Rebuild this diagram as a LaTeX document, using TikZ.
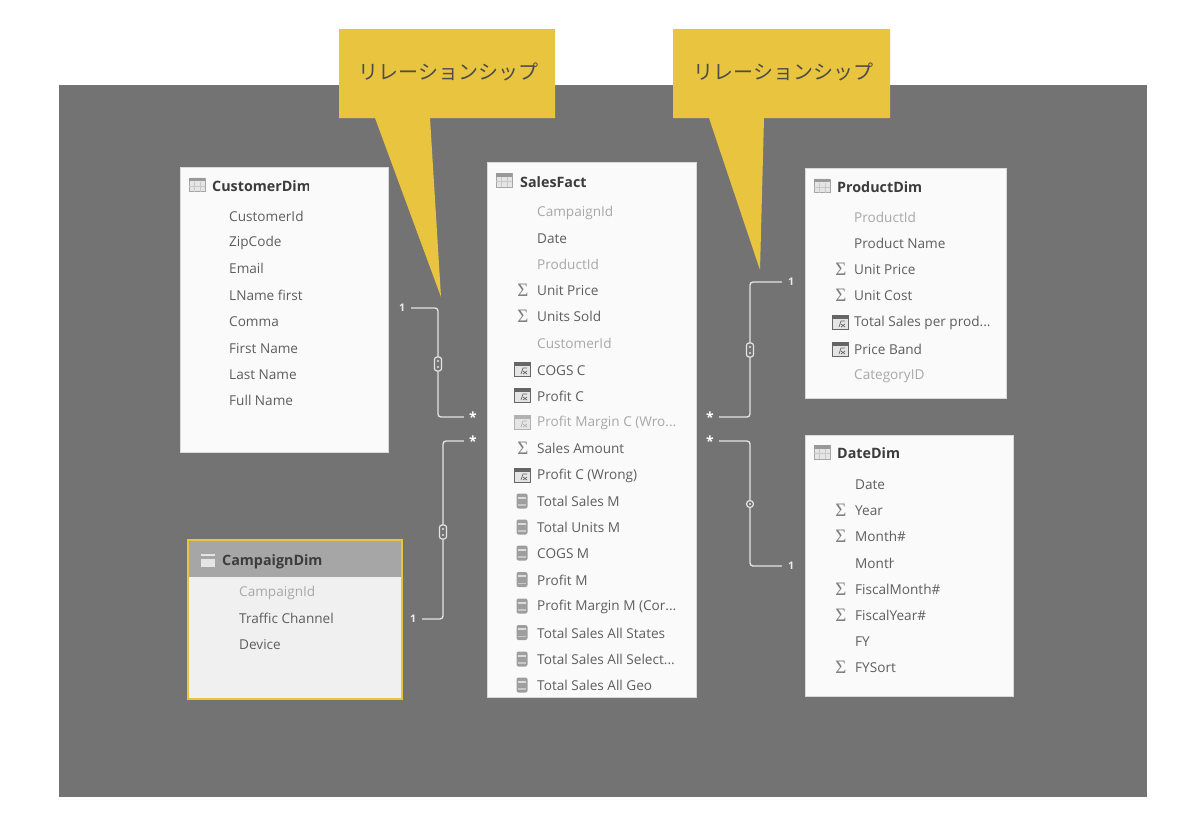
\documentclass[tikz,border=0pt]{standalone}
\usepackage{fontspec}
\setmainfont{Open Sans}
\newfontfamily\cjkf{Noto Sans CJK JP}
\newfontfamily\symf{Liberation Serif}
\definecolor{bgc}{HTML}{737373}
\definecolor{boxc}{HTML}{FAFAFA}
\definecolor{yel}{HTML}{E9C53F}
\definecolor{fieldc}{HTML}{5E5E5E}
\definecolor{hidc}{HTML}{A8A8A8}
\definecolor{headc}{HTML}{3C3C3C}
\definecolor{linec}{HTML}{E4E4E4}
\tikzset{
  x=1pt,y=-1pt,
  tablebox/.style={fill=boxc,draw=white!85!black,line width=1pt},
  callout/.style={fill=yel,draw=none},
  calltext/.style={font=\cjkf\fontsize{20}{20}\selectfont,text=black!70,inner sep=0pt},
  fieldt/.style={font=\fontsize{13.6}{14}\selectfont,text=fieldc,anchor=west,inner sep=0pt},
  hidt/.style={fieldt,text=hidc},
  headt/.style={font=\bfseries\fontsize{14.3}{15}\selectfont,text=headc,anchor=west,inner sep=0pt},
  sigt/.style={font=\symf\fontsize{19}{19}\selectfont,text=black!50,inner sep=0pt},
  relline/.style={draw=linec,line width=1.3pt,rounded corners=3pt},
  badge/.style={draw=linec,fill=bgc,line width=1.2pt,rounded corners=2.5pt,minimum width=7pt,minimum height=14pt,inner sep=0pt},
  badgeo/.style={draw=linec,fill=bgc,line width=1.2pt,circle,minimum size=7pt,inner sep=0pt},
  mult/.style={font=\bfseries\fontsize{10.5}{10}\selectfont,text=white!92!black,inner sep=1pt,minimum height=8pt},
  star/.style={mult,font=\bfseries\fontsize{14}{10}\selectfont,text=white},
}
\newcommand{\fld}[5]{\node[#4] (#1) at (#2,#3+0.8) {#5};}
\newcommand{\sig}[3]{\node[sigt] (#1) at (#2,#3) {Σ};}
% table icon
\newcommand{\tabicon}[2]{%
  \fill[black!10,rounded corners=1pt] (#1-8,#2-7) rectangle (#1+8,#2+7);
  \draw[black!35,line width=.7pt] (#1-8,#2-6.5) rectangle (#1+8,#2+7);
  \fill[black!40] (#1-8,#2-7) rectangle (#1+8,#2-3.5);
  \draw[black!22,line width=.4pt] (#1-8,#2+1.5) -- (#1+8,#2+1.5) (#1-3,#2-3) -- (#1-3,#2+7) (#1+3,#2-3) -- (#1+3,#2+7);}
% calculated column icon
\newcommand{\calicon}[3][black!60]{%
  \fill[black!10] (#2-8,#3-7) rectangle (#2+8,#3+7);
  \draw[#1,line width=.6pt] (#2-8,#3-7) rectangle (#2+8,#3+7);
  \fill[#1] (#2-8,#3-7) rectangle (#2+8,#3-3.5);
  \draw[#1,line width=.7pt] (#2-1,#3+5) -- (#2+1,#3-1) -- (#2+5,#3-1) (#2+1,#3+2) -- (#2+5,#3+5) (#2+5,#3+2) -- (#2+1,#3+5);}
% measure icon
\newcommand{\meaicon}[2]{%
  \fill[black!38,rounded corners=2pt] (#1-5.5,#2-7.5) rectangle (#1+5.5,#2+7.5);
  \fill[black!14] (#1-4,#2-4.5) rectangle (#1+4,#2-2.5);
  \fill[black!22] (#1-4,#2+3) rectangle (#1+4,#2+4.5);}
\begin{document}
\begin{tikzpicture}
\path[use as bounding box,fill=white] (0,0) rectangle (1200,822);
\fill[bgc] (59,85) rectangle (1147,797);

% callouts
\path[callout] (339,29) -- (555,29) -- (555,118) -- (430,118) -- (441,297) -- (375,118) -- (339,118) -- cycle;
\path[callout] (673,29) -- (890,29) -- (890,118) -- (764,118) -- (760,270) -- (709,118) -- (673,118) -- cycle;
\node[calltext] (call1) at (448.5,71.5) {リレーションシップ};
\node[calltext] (call2) at (783.5,71.5) {リレーションシップ};

% CustomerDim
\path[tablebox] (180,167) rectangle (388,452);
\tabicon{197}{184.5}
\begin{scope}\clip (205,170) rectangle (308,200);
\fld{cust}{212}{185}{headt}{CustomerDim}
\end{scope}
\fld{c1}{229}{216}{fieldt}{CustomerId}
\fld{c2}{229}{242}{fieldt}{ZipCode}
\fld{c3}{229}{268}{fieldt}{Email}
\fld{c4}{229}{294.5}{fieldt}{LName first}
\fld{c5}{229}{320.5}{fieldt}{Comma}
\fld{c6}{229}{347.5}{fieldt}{First Name}
\fld{c7}{229}{373.5}{fieldt}{Last Name}
\fld{c8}{229}{400}{fieldt}{Full Name}

% CampaignDim
\path[fill=black!6] (188,540) rectangle (402,699);
\fill[black!35] (188,540) rectangle (402,577);
\draw[yel,line width=2.4pt] (188,540) rectangle (402,699);
\fill[white!90!black] (201,554) rectangle (215,567);
\fill[black!35] (201,556) rectangle (215,559);
\fld{camp}{222}{560.5}{headt}{CampaignDim}
\fld{k1}{239}{592}{hidt}{CampaignId}
\fld{k2}{239}{618}{fieldt}{Traffic Channel}
\fld{k3}{239}{644}{fieldt}{Device}

% SalesFact
\path[tablebox] (487.5,162.5) rectangle (696.5,697);
\tabicon{504}{180}
\fld{sales}{520}{181}{headt}{SalesFact}
\fld{s1}{537}{212}{hidt}{CampaignId}
\fld{s2}{537}{238}{fieldt}{Date}
\fld{s3}{537}{264}{hidt}{ProductId}
\sig{si4}{523}{290}
\fld{s4}{537}{290}{fieldt}{Unit Price}
\sig{si5}{523}{316}
\fld{s5}{537}{316}{fieldt}{Units Sold}
\fld{s6}{537}{343}{hidt}{CustomerId}
\calicon{522}{369}
\fld{s7}{537}{369.5}{fieldt}{COGS C}
\calicon{522}{395}
\fld{s8}{537}{395.5}{fieldt}{Profit C}
\calicon[black!30]{522}{422}
\fld{s9}{537}{422}{hidt}{Profit Margin C (Wro...}
\sig{si10}{523}{448}
\fld{s10}{537}{448}{fieldt}{Sales Amount}
\calicon{522}{475}
\fld{s11}{537}{475}{fieldt}{Profit C (Wrong)}
\meaicon{522}{501}
\fld{s12}{537}{501}{fieldt}{Total Sales M}
\meaicon{522}{527}
\fld{s13}{537}{527}{fieldt}{Total Units M}
\meaicon{522}{553}
\fld{s14}{537}{553}{fieldt}{COGS M}
\meaicon{522}{579.5}
\fld{s15}{537}{579.5}{fieldt}{Profit M}
\meaicon{522}{606}
\fld{s16}{537}{606}{fieldt}{Profit Margin M (Cor...}
\meaicon{522}{632.5}
\fld{s17}{537}{632.5}{fieldt}{Total Sales All States}
\meaicon{522}{659}
\fld{s18}{537}{659}{fieldt}{Total Sales All Select...}
\meaicon{522}{685}
\fld{s19}{537}{685}{fieldt}{Total Sales All Geo}

% ProductDim
\path[tablebox] (805,168) rectangle (1006,398);
\tabicon{822}{185.5}
\fld{prod}{837}{186}{headt}{ProductDim}
\fld{p1}{854}{217}{hidt}{ProductId}
\fld{p2}{854}{243}{fieldt}{Product Name}
\sig{pi3}{841}{269}
\fld{p3}{854}{269}{fieldt}{Unit Price}
\sig{pi4}{841}{295}
\fld{p4}{854}{295}{fieldt}{Unit Cost}
\calicon{840}{322}
\fld{p5}{854}{322}{fieldt}{Total Sales per prod...}
\calicon{840}{349}
\fld{p6}{854}{349}{fieldt}{Price Band}
\fld{p7}{854}{375}{hidt}{CategoryID}

% DateDim
\path[tablebox] (805,435) rectangle (1013,696);
\tabicon{822}{452}
\begin{scope}\clip (830,440) rectangle (898,465);
\fld{date}{837}{452}{headt}{DateDim}
\end{scope}
\fld{d1}{855}{484}{fieldt}{Date}
\sig{di2}{841}{510}
\fld{d2}{855}{510}{fieldt}{Year}
\sig{di3}{841}{536}
\fld{d3}{855}{536}{fieldt}{Month\#}
\begin{scope}\clip (850,550) rectangle (893,575);
\fld{d4}{855}{563}{fieldt}{Month}
\end{scope}
\sig{di5}{841}{589}
\fld{d5}{855}{589}{fieldt}{FiscalMonth\#}
\sig{di6}{841}{615}
\fld{d6}{855}{615}{fieldt}{FiscalYear\#}
\fld{d7}{855}{641}{fieldt}{FY}
\sig{di8}{841}{667}
\fld{d8}{855}{667}{fieldt}{FYSort}

% multiplicity labels
\node[mult] (one1) at (402,308) {1};
\node[mult] (one2) at (413,619) {1};
\node[mult] (one3) at (791,282) {1};
\node[mult] (one4) at (791,566) {1};
\node[star] (st1) at (473,417) {\raisebox{-3.4pt}{*}};
\node[star] (st2) at (473,441) {\raisebox{-3.4pt}{*}};
\node[star] (st3) at (710,417) {\raisebox{-3.4pt}{*}};
\node[star] (st4) at (710,441) {\raisebox{-3.4pt}{*}};

% relationship connectors
\coordinate (b1) at (438,364);
\coordinate (b2) at (443,532);
\coordinate (b3) at (750,350);
\coordinate (b4) at (750,504);
\draw[relline] ([xshift=5pt]one1.east) -| (b1) |- ([xshift=-4pt]st1.west);
\draw[relline] ([xshift=5pt]one2.east) -| (b2) |- ([xshift=-4pt]st2.west);
\draw[relline] ([xshift=-5pt]one3.west) -| (b3) |- ([xshift=4pt]st3.east);
\draw[relline] ([xshift=-5pt]one4.west) -| (b4) |- ([xshift=4pt]st4.east);
\node[badge] (bn1) at (b1) {};
\node[badge] (bn2) at (b2) {};
\node[badge] (bn3) at (b3) {};
\node[badgeo] (bn4) at (b4) {};
\fill[linec] (438,361) circle (1.1pt) (438,367) circle (1.1pt) (443,529) circle (1.1pt) (443,535) circle (1.1pt) (750,347) circle (1.1pt) (750,353) circle (1.1pt) (750,504) circle (1.1pt);
\end{tikzpicture}
\end{document}
